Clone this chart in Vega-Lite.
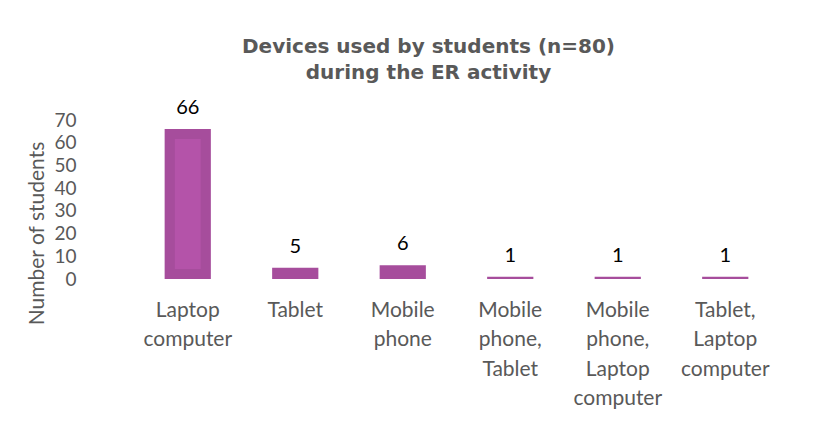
{
  "$schema": "https://vega.github.io/schema/vega-lite/v6.json",
  "width": 645,
  "height": 159,
  "padding": {"left": 26, "top": 37, "right": 10, "bottom": 5},
  "background": "white",
  "title": {
    "text": ["Devices used by students (n=80)", "during the ER activity"],
    "anchor": "middle",
    "frame": "group",
    "dx": -28,
    "font": "DejaVu Sans",
    "fontSize": 20,
    "fontWeight": "bold",
    "color": "#595959",
    "lineHeight": 26,
    "offset": 15,
    "limit": 800
  },
  "data": {
    "values": [
      {"device": "Laptop computer", "n": 66},
      {"device": "Tablet", "n": 5},
      {"device": "Mobile phone", "n": 6},
      {"device": "Mobile phone, Tablet", "n": 1},
      {"device": "Mobile phone, Laptop computer", "n": 1},
      {"device": "Tablet, Laptop computer", "n": 1}
    ]
  },
  "encoding": {
    "x": {
      "field": "device",
      "type": "nominal",
      "sort": null,
      "scale": {"paddingInner": 0.57, "paddingOuter": 0.285},
      "axis": {
        "title": null,
        "labelAngle": 0,
        "labelExpr": "split(datum.label, ' ')",
        "labelFont": "Lato",
        "labelFontSize": 21,
        "labelColor": "#595959",
        "labelLineHeight": 29.5,
        "labelPadding": 20,
        "domain": false,
        "ticks": false,
        "grid": false,
        "labelLimit": 200
      }
    },
    "y": {
      "field": "n",
      "type": "quantitative",
      "stack": null,
      "scale": {"domain": [0, 70], "nice": false},
      "axis": {
        "title": "Number of students",
        "values": [0, 10, 20, 30, 40, 50, 60, 70],
        "labelFont": "Lato",
        "labelFontSize": 19,
        "labelColor": "#595959",
        "labelPadding": 58,
        "titleFont": "Lato",
        "titleFontSize": 21,
        "titleFontWeight": "normal",
        "titleColor": "#595959",
        "titlePadding": 6,
        "titleY": 113,
        "domain": false,
        "ticks": false,
        "grid": false
      }
    }
  },
  "layer": [
    {"mark": {"type": "bar", "color": "#A64D9C"}},
    {
      "transform": [{"filter": "datum.n > 10"}],
      "mark": {"type": "bar", "color": "#B453A9", "width": {"band": 0.56}, "yOffset": 10, "y2Offset": -10},
      "encoding": {"y2": {"datum": 0}}
    },
    {
      "mark": {"type": "text", "font": "Lato", "fontSize": 20, "color": "#000000", "baseline": "middle", "dy": -21},
      "encoding": {"text": {"field": "n", "type": "quantitative"}}
    }
  ],
  "config": {"view": {"stroke": null}}
}
